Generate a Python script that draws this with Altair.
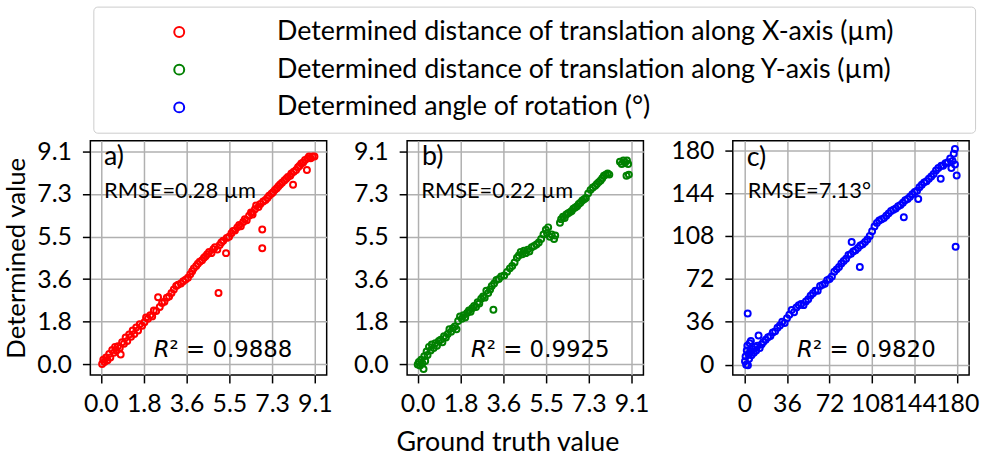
import altair as alt
import pandas as pd

# ---------------- data ----------------
series_names = [
    "Determined distance of translation along X-axis (µm)",
    "Determined distance of translation along Y-axis (µm)",
    "Determined angle of rotation (°)",
]
series_colors = ["#ff0000", "#008000", "#0000ff"]

a_truth = [0.05, 0.10, 0.15, 0.22, 0.28, 0.35, 0.40, 0.48, 0.55, 0.60, 0.66, 0.72, 0.80, 0.84,
           0.90, 0.98, 1.05, 1.12, 1.20, 1.28, 1.35, 1.42, 1.50, 1.58, 1.65, 1.75, 1.85, 1.92,
           2.00, 2.10, 2.18, 2.25, 2.35, 2.43, 2.50, 2.60, 2.70, 2.80, 2.90, 3.00, 3.10, 3.20,
           3.28, 3.40, 3.50, 3.60, 3.70, 3.80, 3.88, 3.95, 4.05, 4.12, 4.20, 4.30, 4.38, 4.45,
           4.52, 4.60, 4.70, 4.78, 4.85, 4.95, 5.00, 5.05, 5.12, 5.20, 5.32, 5.35, 5.45, 5.55,
           5.62, 5.70, 5.80, 5.88, 5.95, 6.05, 6.12, 6.20, 6.30, 6.38, 6.44, 6.45, 6.55, 6.60,
           6.70, 6.78, 6.86, 6.86, 6.90, 7.00, 7.08, 7.15, 7.25, 7.32, 7.40, 7.48, 7.55, 7.62,
           7.70, 7.80, 7.88, 7.95, 8.05, 8.17, 8.10, 8.20, 8.30, 8.38, 8.45, 8.52, 8.60, 8.68,
           8.76, 8.80, 8.85, 8.92, 9.00, 9.08]
a_det = [0.02, 0.20, 0.10, 0.30, 0.18, 0.45, 0.30, 0.62, 0.50, 0.75, 0.60, 0.78, 0.70, 0.42,
         0.95, 0.88, 1.15, 1.00, 1.28, 1.18, 1.45, 1.30, 1.58, 1.45, 1.72, 1.65, 1.80, 2.00,
         1.95, 2.10, 2.05, 2.30, 2.28, 2.87, 2.45, 2.62, 2.68, 2.85, 2.90, 3.05, 3.20, 3.35,
         3.40, 3.45, 3.55, 3.62, 3.70, 3.85, 3.98, 4.10, 4.20, 4.30, 4.38, 4.45, 4.55, 4.62,
         4.70, 4.80, 4.75, 4.92, 5.00, 4.90, 3.05, 5.10, 5.20, 5.28, 4.75, 5.40, 5.45, 5.60,
         5.70, 5.72, 5.85, 5.95, 5.90, 6.08, 6.20, 6.15, 6.35, 6.48, 6.47, 6.40, 6.62, 6.78,
         6.72, 6.85, 5.76, 4.96, 6.95, 7.02, 7.10, 7.20, 7.28, 7.35, 7.45, 7.52, 7.60, 7.68,
         7.75, 7.85, 7.92, 8.00, 8.05, 7.67, 8.15, 8.22, 8.30, 8.42, 8.48, 8.58, 8.62, 8.72,
         8.30, 8.80, 8.87, 8.80, 8.87, 8.87]

b_truth = [0.00, 0.05, 0.10, 0.15, 0.20, 0.25, 0.28, 0.32, 0.38, 0.42, 0.48, 0.55, 0.60, 0.68,
           0.75, 0.82, 0.90, 0.98, 1.05, 1.12, 1.20, 1.28, 1.35, 1.42, 1.50, 1.58, 1.65, 1.72,
           1.80, 1.88, 1.95, 2.02, 2.10, 2.18, 2.25, 2.32, 2.40, 2.48, 2.55, 2.62, 2.70, 2.78,
           2.85, 2.92, 3.00, 3.08, 3.22, 3.15, 3.25, 3.35, 3.45, 3.55, 3.68, 3.80, 3.92, 4.02,
           4.12, 4.22, 4.30, 4.38, 4.45, 4.52, 4.60, 4.68, 4.75, 4.85, 4.95, 5.05, 5.15, 5.25,
           5.35, 5.45, 5.50, 5.55, 5.62, 5.70, 5.80, 5.85, 6.05, 6.10, 6.18, 6.25, 6.32, 6.40,
           6.48, 6.55, 6.62, 6.70, 6.78, 6.85, 6.92, 7.00, 7.08, 7.15, 7.25, 7.35, 7.45, 7.55,
           7.62, 7.70, 7.78, 7.85, 7.92, 8.00, 8.08, 8.15, 8.60, 8.68, 8.75, 8.82, 8.90, 8.95,
           8.98, 8.88]
b_det = [0.00, 0.10, -0.05, 0.20, 0.05, -0.20, 0.35, 0.15, 0.55, 0.40, 0.75, 0.60, 0.85, 0.70,
         0.90, 0.80, 1.00, 1.05, 0.95, 1.20, 1.15, 1.30, 1.50, 1.40, 1.55, 1.62, 1.50, 1.85,
         2.05, 1.95, 2.10, 2.00, 2.20, 2.30, 2.25, 2.40, 2.50, 2.45, 2.65, 2.60, 2.80, 2.90,
         2.85, 3.15, 3.05, 3.20, 2.33, 3.35, 3.45, 3.60, 3.65, 3.75, 3.80, 3.95, 4.10, 4.20,
         4.35, 4.55, 4.65, 4.80, 4.70, 4.85, 4.75, 4.90, 4.82, 5.00, 5.05, 5.12, 5.20, 5.35,
         5.55, 5.75, 5.60, 5.85, 5.45, 5.55, 5.35, 5.50, 6.05, 6.20, 6.30, 6.25, 6.40, 6.45,
         6.50, 6.55, 6.65, 6.70, 6.75, 6.85, 6.90, 7.00, 7.05, 7.10, 7.30, 7.45, 7.55, 7.62,
         7.70, 7.78, 7.85, 7.95, 8.05, 8.10, 8.15, 8.10, 8.65, 8.55, 8.70, 8.62, 8.70, 8.55,
         8.10, 8.05]

c_truth = [0.5, 1.0, 1.5, 2.0, 2.5, 2.8, 3.0, 3.5, 4.0, 4.5, 5.0, 5.5, 6.0, 7.0, 8.0, 9.0,
           10.0, 11.0, 12.0, 13.0, 14.5, 16.0, 18.0, 20.0, 22.0, 24.0, 26.0, 28.0, 30.0, 32.0,
           34.0, 36.0, 38.0, 40.0, 42.0, 44.0, 46.0, 48.0, 50.0, 52.0, 54.0, 56.0, 58.0, 60.0,
           62.0, 64.0, 66.0, 68.0, 70.0, 72.0, 74.0, 76.0, 78.0, 80.0, 82.0, 84.0, 86.0, 88.0,
           90.7, 90.0, 92.0, 94.0, 96.0, 97.6, 98.0, 100.0, 102.0, 104.0, 106.0, 108.0, 110.0,
           112.0, 114.0, 116.0, 118.0, 120.0, 122.0, 124.0, 126.0, 128.0, 130.0, 132.0, 134.8,
           134.0, 136.0, 138.0, 140.0, 142.0, 144.0, 146.0, 147.0, 148.0, 150.0, 152.0, 154.0,
           156.0, 158.0, 160.0, 162.0, 164.0, 166.0, 166.5, 168.0, 170.0, 172.0, 174.0, 176.0,
           177.0, 178.0, 178.6, 179.5, 175.0, 178.0]
c_det = [3.0, 7.0, 0.0, 12.0, 16.0, 43.0, -0.5, 9.0, 5.0, 18.0, 11.0, 20.0, 8.0, 13.0, 10.0,
         15.0, 12.0, 16.0, 24.5, 14.0, 17.0, 19.0, 21.0, 23.0, 24.0, 27.0, 28.0, 31.0, 33.0,
         36.0, 35.0, 39.0, 42.0, 46.0, 44.0, 48.0, 50.0, 51.0, 50.0, 53.0, 55.0, 58.0, 60.0,
         62.0, 62.0, 66.0, 67.0, 68.0, 71.0, 72.0, 74.0, 78.0, 80.0, 82.0, 85.0, 87.0, 89.0,
         92.0, 103.0, 93.0, 95.0, 96.0, 98.0, 82.0, 100.0, 101.0, 103.0, 105.0, 108.0, 112.0,
         116.0, 119.0, 121.0, 122.0, 123.0, 125.0, 127.0, 129.0, 130.0, 131.0, 133.0, 134.0,
         123.7, 136.0, 138.0, 139.0, 141.0, 143.0, 145.0, 146.0, 139.0, 149.0, 151.0, 153.0,
         154.0, 156.0, 158.0, 160.0, 163.0, 165.0, 156.0, 167.0, 167.0, 169.0, 170.0, 173.0,
         171.0, 177.0, 181.0, 99.0, 158.7, 165.0, 168.0]

panel_letters = ["a)", "b)", "c)"]
rmse_texts = ["RMSE=0.28 µm", "RMSE=0.22 µm", "RMSE=7.13°"]
r2_values = ["0.9888", "0.9925", "0.9820"]

um_ticks = [0.0, 1.82, 3.64, 5.46, 7.28, 9.1]
deg_ticks = [0, 36, 72, 108, 144, 180]

# annotation anchors in data coordinates
letter_pos = [(0.13, 8.84), (0.18, 8.84), (1.9, 173.0)]
rmse_pos = [(0.13, 7.39), (0.15, 7.39), (2.8, 145.6)]
r2_pos = [(2.92, 0.62), (2.94, 0.62), (58.0, 12.0)]

FONT = "Lato"

legend = alt.Legend(
    orient="none", legendX=3, legendY=-135,
    title=" ", titleOrient="left", titlePadding=61, titleFontSize=10,
    padding=12, strokeColor="#cccccc", fillColor="white", cornerRadius=4,
    labelFont=FONT, labelFontSize=27, labelColor="black", labelOffset=85, labelLimit=1500,
    labelExpr="datum.label + '          \u200b'",
    symbolType="circle", symbolSize=100, symbolStrokeWidth=2, rowPadding=10,
)


def make_panel(i, truth, det, xdom, ydom, ticks, fmt, xtitle, ytitle):
    df = pd.DataFrame({"truth": truth, "determined": det, "series": series_names[i]})
    xs = alt.Scale(domain=xdom, nice=False, zero=False)
    ys = alt.Scale(domain=ydom, nice=False, zero=False)
    X = alt.X("truth:Q", scale=xs, axis=alt.Axis(values=ticks, format=fmt, titleX=101), title=xtitle)
    Y = alt.Y("determined:Q", scale=ys, axis=alt.Axis(values=ticks, format=fmt), title=ytitle)
    pts = alt.Chart(df).mark_point(shape="circle", filled=False, size=36, strokeWidth=2, opacity=1).encode(
        x=X, y=Y,
        color=alt.Color("series:N", scale=alt.Scale(domain=series_names, range=series_colors), legend=legend),
    )
    lt = alt.Chart(pd.DataFrame({"truth": [letter_pos[i][0]], "determined": [letter_pos[i][1]], "t": [panel_letters[i]]})).mark_text(
        align="left", baseline="middle", font=FONT, fontSize=27, color="black").encode(x=X, y=Y, text="t:N")
    rm = alt.Chart(pd.DataFrame({"truth": [rmse_pos[i][0]], "determined": [rmse_pos[i][1]], "t": [rmse_texts[i]]})).mark_text(
        align="left", baseline="middle", font=FONT, fontSize=22, color="black").encode(x=X, y=Y, text="t:N")
    r2df = pd.DataFrame({"truth": [r2_pos[i][0]], "determined": [r2_pos[i][1]],
                         "r": ["R"], "rest": ["² = " + r2_values[i]]})
    r_it = alt.Chart(r2df).mark_text(align="right", baseline="middle", font="DejaVu Sans", fontStyle="italic",
                                     fontSize=23, color="black").encode(x=X, y=Y, text="r:N")
    r_rest = alt.Chart(r2df).mark_text(align="left", baseline="middle", font="DejaVu Sans",
                                       fontSize=23, color="black").encode(x=X, y=Y, text="rest:N")
    return alt.layer(pts, lt, rm, r_it, r_rest).properties(width=238, height=236)


pa = make_panel(0, a_truth, a_det, [-0.45, 9.6], [-0.45, 9.55], um_ticks, ".1f", None, "Determined value")
pb = make_panel(1, b_truth, b_det, [-0.45, 9.6], [-0.45, 9.55], um_ticks, ".1f", "Ground truth value", None)
pc = make_panel(2, c_truth, c_det, [-9.8, 190], [-8.6, 188], deg_ticks, "d", None, None)

chart = alt.hconcat(pa, pb, pc, spacing=19).properties(
    padding={"left": 3, "top": 4, "right": 5, "bottom": 5}
).configure_view(
    stroke="black", strokeWidth=1.5
).configure_axis(
    labelFont=FONT, labelFontSize=25, labelColor="black",
    labelOverlap=False, labelFlush=False,
    tickColor="black", tickSize=8, tickWidth=1.5,
    domain=False,
    grid=True, gridColor="#b0b0b0", gridWidth=1.5, gridOpacity=1,
    titleFont=FONT, titleFontWeight="normal", titleColor="black",
).configure_axisX(labelPadding=9, titlePadding=13, titleFontSize=27).configure_axisY(
    labelPadding=11, titlePadding=7, titleFontSize=26)

chart.save("out.html", embed_options={"renderer": "svg", "actions": False})
